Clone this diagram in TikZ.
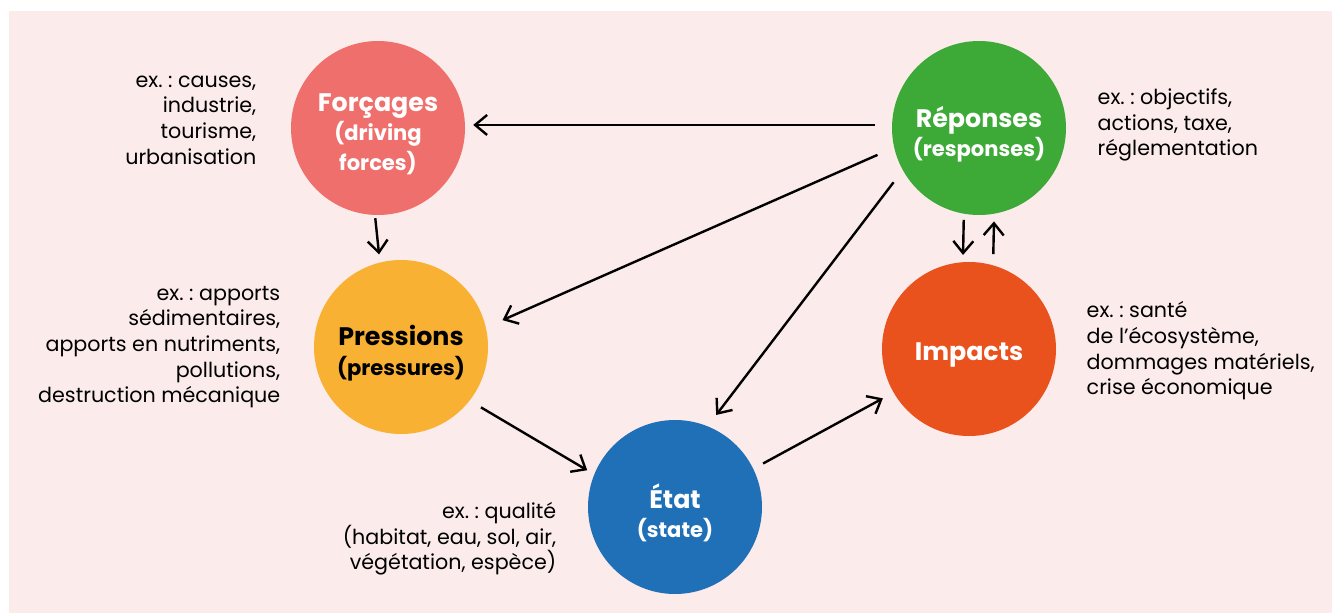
\documentclass[tikz,border=0pt]{standalone}
\usepackage{fontspec}
\setmainfont{Poppins}
\frenchspacing
\usetikzlibrary{arrows.meta}
\definecolor{fond}{HTML}{FCEBEB}
\definecolor{forcage}{HTML}{EF6F6C}
\definecolor{pression}{HTML}{F8B133}
\definecolor{etat}{HTML}{1F70B7}
\definecolor{impact}{HTML}{E9511D}
\definecolor{reponse}{HTML}{3DAA38}
\newcommand{\sous}[1]{{\fontsize{15.8}{19}\selectfont #1}}

\begin{document}
\begin{tikzpicture}[x=0.75pt,y=-0.75pt,
  etape/.style={circle,inner sep=0pt,minimum size=130.5pt},
  titre/.style={align=center,text=white,yshift=-4.5pt,
    font=\bfseries\fontsize{19}{22}\selectfont},
  exemple/.style={align=right,text=black,font=\fontsize{15.5}{19.2}\selectfont},
  fleche/.style={draw,line width=1.8pt,-{Straight Barb[length=9pt,width=15pt]}}]
\useasboundingbox (0,0) rectangle (1332,613);
\fill[fond] (9,11) rectangle (1332,613);

\node[etape,fill=forcage,label={[titre]center:Forçages\\\sous{(driving}\\\sous{forces)}}] (F) at (378,128) {};
\node[etape,fill=pression,label={[titre,text=black]center:Pressions\\\sous{(pressures)}}] (P) at (401,347) {};
\node[etape,fill=etat,label={[titre]center:État\\\sous{(state)}}] (E) at (675,507) {};
\node[etape,fill=impact,label={[titre]center:Impacts}] (I) at (969,349) {};
\node[etape,fill=reponse,label={[titre]center:Réponses\\\sous{(responses)}}] (R) at (979,128) {};

\node[exemple,anchor=east] (Fex) at (261,120) {ex. : causes,\\industrie,\\tourisme,\\urbanisation};
\node[exemple,anchor=east] (Pex) at (285,347) {ex. : apports\\sédimentaires,\\apports en nutriments,\\pollutions,\\destruction mécanique};
\node[exemple,anchor=east] (Eex) at (561,539) {ex. : qualité\\(habitat, eau, sol, air,\\végétation, espèce)};
\node[exemple,align=left,anchor=west] (Iex) at (1082,351) {ex. : santé\\de l’écosystème,\\dommages matériels,\\crise économique};
\node[exemple,align=left,anchor=west] (Rex) at (1093,125) {ex. : objectifs,\\actions, taxe,\\réglementation};

\path[fleche,shorten <=12.75pt,shorten >=6pt] (R.178) -- (F.2);
\path[fleche,shorten <=13.5pt,shorten >=13.5pt] (R.193) -- (P.13);
\path[fleche,shorten <=11.25pt,shorten >=10.5pt] (R.209) -- (E.68);
\path[fleche,shorten <=2.25pt,shorten >=6pt] (F.268) -- (P.104);
\path[fleche,shorten <=9.75pt,shorten >=6pt] (P.322) -- (E.158);
\path[fleche,shorten <=8.25pt,shorten >=9pt] (E.26) -- (I.210);
\path[fleche,shorten <=4.5pt,shorten >=5.25pt] (R.260) -- (I.94);
\path[fleche,shorten <=8.25pt,shorten >=5.6pt] (I.74) -- (R.280);
\end{tikzpicture}
\end{document}
